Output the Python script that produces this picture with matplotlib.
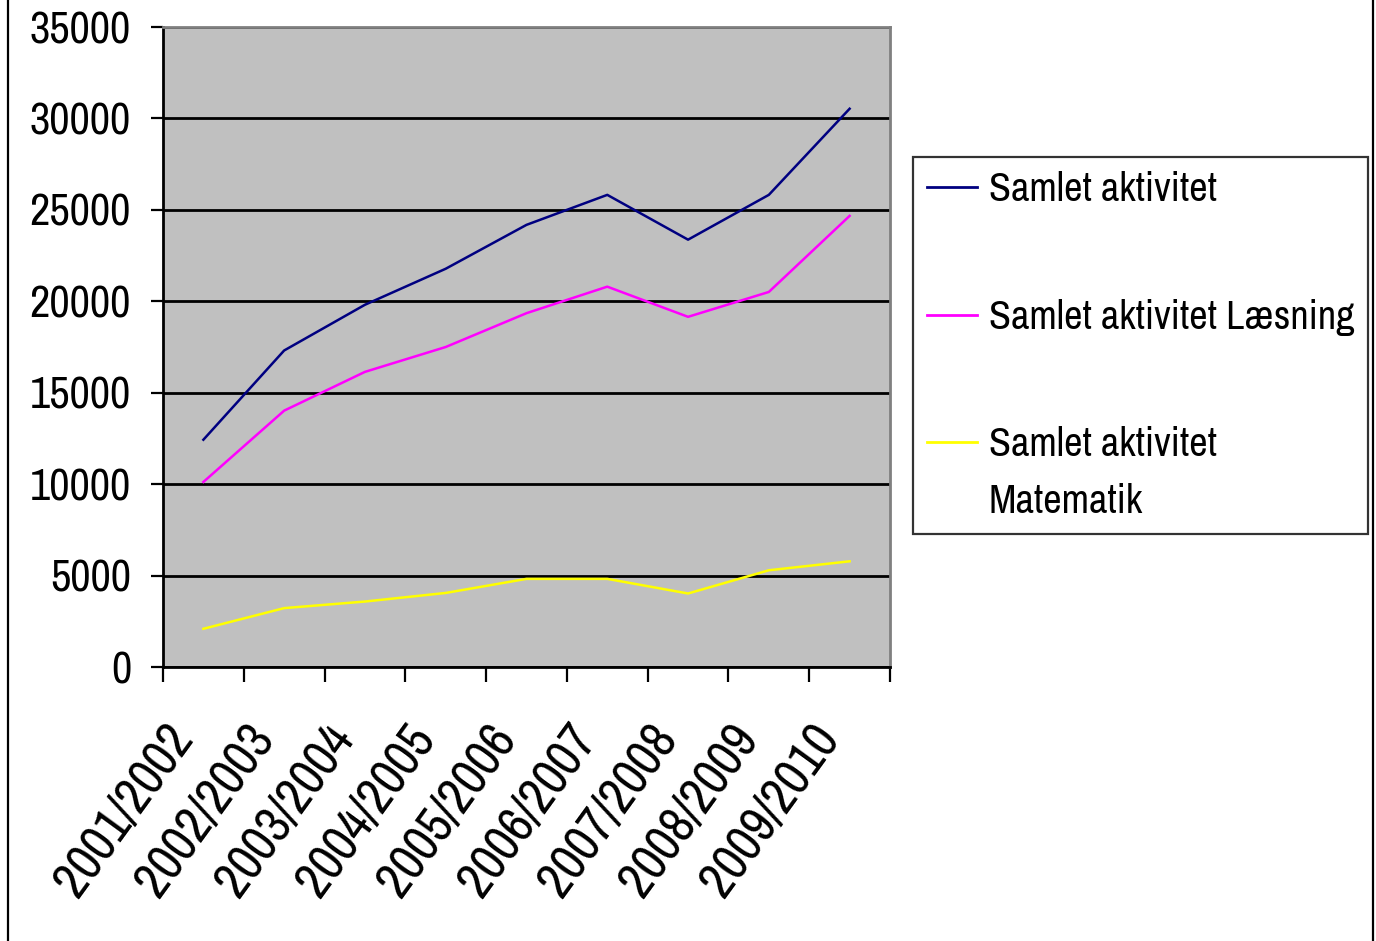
import numpy as np
import matplotlib.pyplot as plt
from matplotlib.lines import Line2D
from matplotlib.legend_handler import HandlerLine2D

plt.rcParams['font.family'] = ['Archivo Narrow', 'Liberation Sans', 'DejaVu Sans']

years = ['2001/2002', '2002/2003', '2003/2004', '2004/2005', '2005/2006',
         '2006/2007', '2007/2008', '2008/2009', '2009/2010']
samlet = [12430, 17310, 19810, 21780, 24180, 25820, 23370, 25820, 30530]
laesning = [10120, 14020, 16140, 17500, 19350, 20800, 19150, 20510, 24670]
matematik = [2090, 3220, 3580, 4050, 4820, 4820, 4020, 5290, 5780]

labels = ['Samlet aktivitet', 'Samlet aktivitet Læsning',
          'Samlet aktivitet\nMatematik']
colors = ['#000080', '#FF00FF', '#FFFF00']


class FirstLineHandler(HandlerLine2D):
    # put the legend line next to the first row of a two-row label
    def create_artists(self, legend, orig, xd, yd, w, h, fs, trans):
        arts = super().create_artists(legend, orig, xd, yd, w, h, fs, trans)
        for a in arts:
            a.set_ydata(np.asarray(a.get_ydata()) + 0.8 * fs)
        return arts


fig = plt.figure(figsize=(13.76, 9.41), dpi=100)
ax = fig.add_axes([163/1376, 1-667/941, (890-163)/1376, (667-27)/941])
ax.set_facecolor('#C0C0C0')

x = np.arange(len(years))
handles = []
for vals, lab, c in zip([samlet, laesning, matematik], labels, colors):
    ln, = ax.plot(x, vals, color=c, lw=1.8, label=lab)
    handles.append(ln)

ax.set_xlim(-0.5, len(years) - 0.5)
ax.set_ylim(0, 35000)
ax.set_yticks(range(0, 35001, 5000))
ax.yaxis.grid(True, color='black', lw=2.0)
ax.set_axisbelow(True)

ax.set_xticks(np.arange(-0.5, len(years)))
ax.set_xticklabels([])
ax.tick_params(axis='x', length=11, width=1.6, direction='out')
ax.tick_params(axis='y', length=9, width=1.6, labelsize=32, pad=14)

for i, yr in enumerate(years):
    ax.annotate(yr, xy=(i, 0), xycoords=('data', 'axes fraction'),
                xytext=(-15, -45), textcoords='offset points',
                rotation=54, ha='right', va='center',
                rotation_mode='anchor', fontsize=37)

for s in ['left', 'bottom']:
    ax.spines[s].set_color('black')
    ax.spines[s].set_linewidth(2.0)
for s in ['top', 'right']:
    ax.spines[s].set_color('#808080')
    ax.spines[s].set_linewidth(2.0)

leg = fig.legend(handles, labels, loc='upper left',
                 bbox_to_anchor=(913/1376, 1-157/941),
                 borderaxespad=0, fontsize=29, frameon=True, fancybox=False,
                 handlelength=1.25, handletextpad=0.28, labelspacing=2.25,
                 borderpad=0.35,
                 handler_map={handles[2]: FirstLineHandler()})
leg.get_frame().set_edgecolor('black')
leg.get_frame().set_linewidth(1.6)
for h in leg.get_lines():
    h.set_linewidth(2)
leg.get_texts()[2].set_linespacing(1.65)

# outer chart frame (only sides visible)
fig.add_artist(Line2D([8/1376, 8/1376], [0, 1], color='black', lw=1.6))
fig.add_artist(Line2D([1373/1376, 1373/1376], [0, 1], color='black', lw=1.6))

fig.savefig('out.png', dpi=100)
